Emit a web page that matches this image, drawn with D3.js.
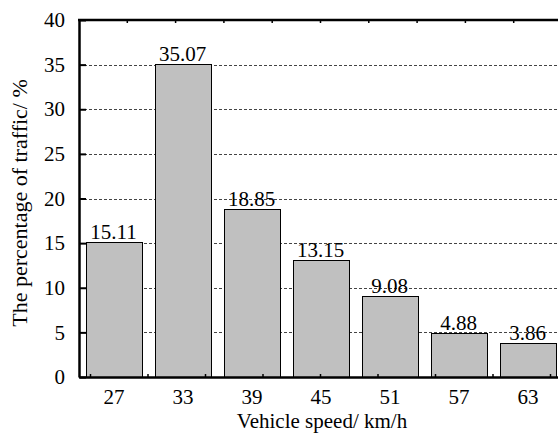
<!DOCTYPE html>
<html>
<head>
<meta charset="utf-8">
<script src="https://cdn.jsdelivr.net/npm/d3@7"></script>
<style>
    body { margin: 0; background: #fff; }
    svg { display: block; }
    svg text { font-family: 'Liberation Serif', 'Times New Roman', serif; }
</style>
</head>
<body>
<svg id="chart"></svg>
<script>
'use strict';

const speeds = [27, 33, 39, 45, 51, 57, 63];
const shares = [15.11, 35.07, 18.85, 13.15, 9.08, 4.88, 3.86];
const shareLabels = ['15.11', '35.07', '18.85', '13.15', '9.08', '4.88', '3.86'];
const yTicks = [0, 5, 10, 15, 20, 25, 30, 35, 40];
const bottomMinor = [25, 30, 35, 40, 45, 50, 55, 60, 65];

const width = 558;
const height = 434;
const margin = {top: 20, left: 79, bottom: 57};

const svg = d3.select('#chart')
    .attr('width', width)
    .attr('height', height);

const x = d3.scaleLinear()
    .domain([24, 66])
    .range([margin.left, margin.left + 42 * 11.5]);

const y = d3.scaleLinear()
    .domain([0, 40])
    .range([height - margin.bottom, margin.top]);

const barW = x(24 + 4.85) - x(24);

// dashed grid, behind the bars
svg.append('g')
    .attr('stroke', '#444')
    .attr('stroke-width', 1)
    .attr('stroke-dasharray', '3,2')
    .selectAll('line')
    .data(yTicks.filter(t => t > 0 && t < 40))
    .join('line')
    .attr('x1', x(24))
    .attr('x2', width)
    .attr('y1', d => Math.round(y(d)) + 0.5)
    .attr('y2', d => Math.round(y(d)) + 0.5);

// bars
svg.append('g')
    .selectAll('rect')
    .data(speeds)
    .join('rect')
    .attr('x', d => Math.round(x(d) - barW / 2) + 0.5)
    .attr('y', (d, i) => Math.round(y(shares[i])) + 0.5)
    .attr('width', Math.round(barW))
    .attr('height', (d, i) => Math.round(y(0)) - Math.round(y(shares[i])))
    .attr('fill', '#c0c0c0')
    .attr('stroke', '#000')
    .attr('stroke-width', 1);

// value labels
svg.append('g')
    .attr('font-size', 21)
    .attr('text-anchor', 'middle')
    .selectAll('text')
    .data(speeds)
    .join('text')
    .attr('x', d => x(d))
    .attr('y', (d, i) => y(shares[i]) - 3)
    .text((d, i) => shareLabels[i]);

// left axis
const yAxis = svg.append('g')
    .attr('transform', `translate(${x(24)},0)`)
    .call(d3.axisLeft(y).tickValues(yTicks).tickSizeInner(-7).tickSizeOuter(0).tickPadding(14))
    .attr('font-family', null)
    .attr('font-size', 21);
yAxis.select('.domain').attr('stroke-width', 2.5);
yAxis.selectAll('.tick line').attr('stroke-width', 2);

// bottom axis: labels at the bar centres, minor ticks every 5
const xAxis = svg.append('g')
    .attr('transform', `translate(0,${y(0)})`)
    .call(d3.axisBottom(x).tickValues(speeds).tickSize(0).tickPadding(12))
    .attr('font-family', null)
    .attr('font-size', 21);
xAxis.select('.domain').attr('stroke-width', 2.5);
xAxis.append('g')
    .attr('stroke', '#000')
    .attr('stroke-width', 1.5)
    .selectAll('line')
    .data(bottomMinor)
    .join('line')
    .attr('x1', d => x(d))
    .attr('x2', d => x(d))
    .attr('y1', -3)
    .attr('y2', 1);

// top frame with its own ticks
const topFrame = svg.append('g')
    .attr('transform', `translate(0,${y(40)})`);
topFrame.append('line')
    .attr('x1', x(24) - 1)
    .attr('x2', width)
    .attr('stroke', '#000')
    .attr('stroke-width', 2.5);
topFrame.append('g')
    .attr('stroke', '#000')
    .attr('stroke-width', 1.5)
    .selectAll('line')
    .data(d3.range(1, 10).map(i => 24 + i * 4.2))
    .join('line')
    .attr('x1', d => x(d))
    .attr('x2', d => x(d))
    .attr('y1', 0)
    .attr('y2', 3);

// axis titles
svg.append('text')
    .attr('x', 322)
    .attr('y', 428)
    .attr('text-anchor', 'middle')
    .attr('font-size', 21)
    .text('Vehicle speed/ km/h');

svg.append('text')
    .attr('transform', 'translate(27,203) rotate(-90)')
    .attr('text-anchor', 'middle')
    .attr('font-size', 22)
    .text('The percentage of traffic/ %');
</script>
</body>
</html>
